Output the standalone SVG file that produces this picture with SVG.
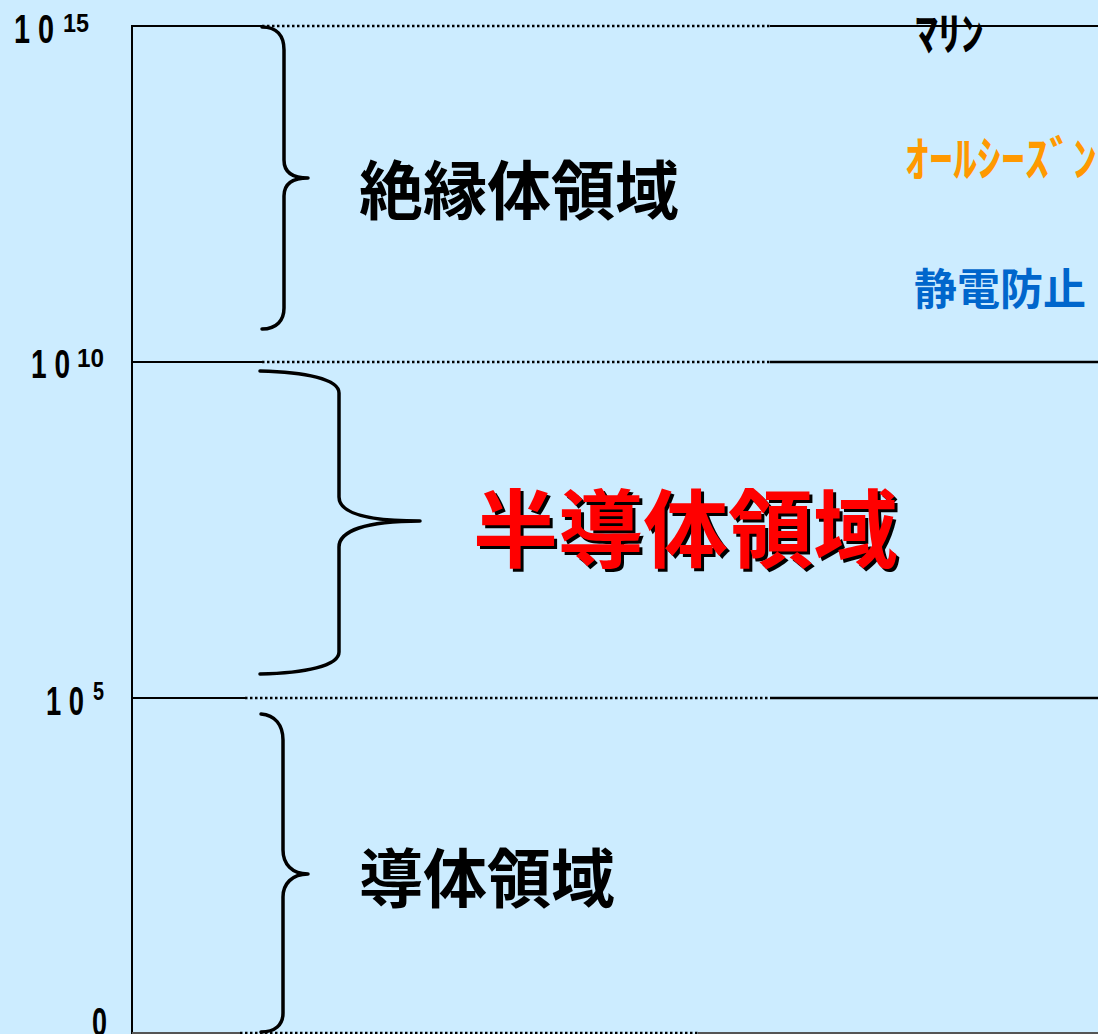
<svg xmlns="http://www.w3.org/2000/svg" width="1098" height="1034" viewBox="0 0 1098 1034">
<style>
.num{font-family:"Liberation Sans",Arial,sans-serif;font-weight:bold;fill:#000}
.jp{font-family:"Noto Sans CJK JP","Noto Sans CJK SC",sans-serif;font-weight:bold}
.solid{stroke:#000;stroke-width:2;fill:none}
.dot{stroke:#000;stroke-width:2.5;stroke-dasharray:2.5 2.5;fill:none}
.brace{stroke:#000;stroke-width:3.5;fill:none;stroke-linecap:round;stroke-linejoin:round}
</style>
<rect width="1098" height="1034" fill="#CCECFF"/>
<g id="axis">
<line class="solid" x1="132" y1="25" x2="132" y2="1034"/>
<line class="solid" x1="131" y1="26" x2="262" y2="26"/>
<line class="dot" x1="262" y1="26" x2="770" y2="26"/>
<line class="solid" x1="770" y1="26" x2="1098" y2="26"/>
<line class="solid" x1="132" y1="362" x2="262" y2="362"/>
<line class="dot" x1="262" y1="362" x2="770" y2="362"/>
<line class="solid" x1="770" y1="362" x2="1098" y2="362" style="stroke-width:2.5"/>
<line class="solid" x1="132" y1="698" x2="245" y2="698"/>
<line class="dot" x1="245" y1="698" x2="770" y2="698"/>
<line class="solid" x1="770" y1="698" x2="1098" y2="698" style="stroke-width:2.5"/>
<line class="solid" x1="132" y1="1033" x2="240" y2="1033" style="stroke:#555"/>
<line class="dot" x1="240" y1="1033" x2="698" y2="1033"/>
<line class="solid" x1="698" y1="1033" x2="1098" y2="1033" style="stroke:#555"/>
</g>
<g id="scale-labels">
<text class="num" x="14" y="43" font-size="40" textLength="40" lengthAdjust="spacingAndGlyphs">1 0</text>
<text class="num" x="63" y="32" font-size="26" textLength="26" lengthAdjust="spacingAndGlyphs">15</text>
<text class="num" x="31" y="378" font-size="40" textLength="39" lengthAdjust="spacingAndGlyphs">1 0</text>
<text class="num" x="77" y="367" font-size="26" textLength="27" lengthAdjust="spacingAndGlyphs">10</text>
<text class="num" x="46" y="715" font-size="40" textLength="38" lengthAdjust="spacingAndGlyphs">1 0</text>
<text class="num" x="93" y="700" font-size="26" textLength="11" lengthAdjust="spacingAndGlyphs">5</text>
<text class="num" x="92" y="1036" font-size="40" textLength="15" lengthAdjust="spacingAndGlyphs">0</text>
</g>
<g id="brace-insulator">
<path class="brace" d="M262,27 C277,27 284,36 284,50 L284,160 C284,172 292,178 308,178 C292,178 284,184 284,196 L284,308 C284,320 277,329 262,329"/>
</g>
<g id="brace-semiconductor">
<path class="brace" d="M260,371 C305,372 339,379 339,393 L339,497 C339,513 365,521 420,521 C365,521 339,531 339,547 L339,652 C339,666 305,673 260,674"/>
</g>
<g id="brace-conductor">
<path class="brace" d="M261,714 C275,715 283,725 283,740 L283,850 C283,864 292,874 308,874 C292,874 283,884 283,897 L283,1013 C283,1025 275,1032 261,1032"/>
</g>
<g id="label-insulator">
<text class="jp" x="359" y="214" font-size="64" fill="#000">絶縁体領域</text>
</g>
<g id="label-semiconductor">
<text class="jp" x="476" y="564" font-size="85" fill="#000">半導体領域</text>
<text class="jp" x="473" y="561" font-size="85" fill="#FF0000">半導体領域</text>
</g>
<g id="label-conductor">
<text class="jp" x="359" y="902" font-size="64" fill="#000">導体領域</text>
</g>
<g id="products">
<text class="jp" x="915" y="50" font-size="46" fill="#000">ﾏﾘﾝ</text>
<text class="jp" x="905" y="176" font-size="48" fill="#FF9900">ｵｰﾙｼｰｽﾞﾝ</text>
<text class="jp" x="914" y="305" font-size="43" fill="#0066CC">静電防止</text>
</g>
</svg>
